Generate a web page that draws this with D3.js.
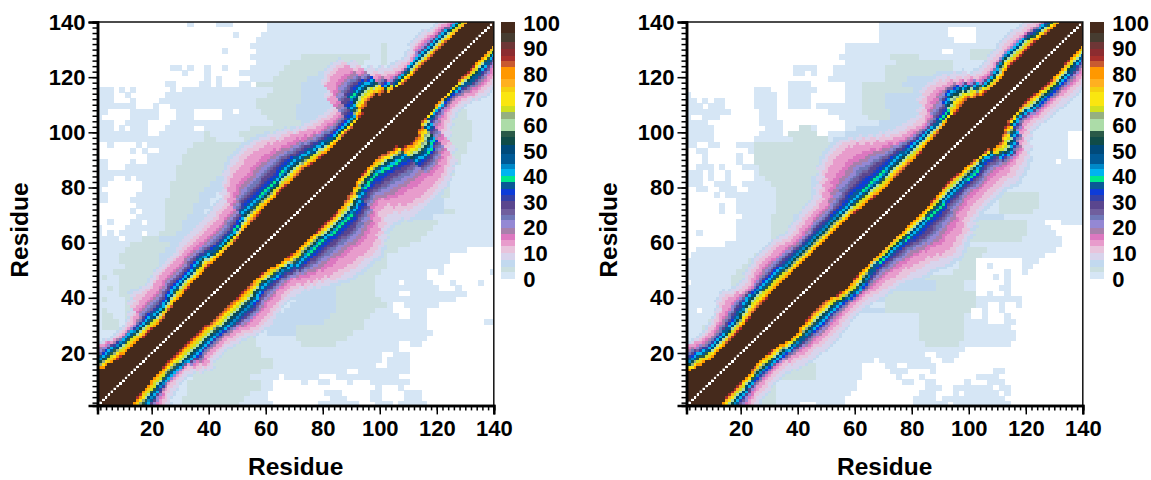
<!DOCTYPE html>
<html>
<head>
<meta charset="utf-8">
<script src="https://cdn.jsdelivr.net/npm/d3@7"></script>
<style>
  html, body { margin: 0; background: #fff; }
  text { font-family: "Liberation Sans", Arial, sans-serif; font-weight: bold; fill: #000; }
</style>
</head>
<body>
<svg id="chart" width="1151" height="480"></svg>
<script>
// Colour bar bands, bottom to top
const barTicks = [0, 10, 20, 30, 40, 50, 60, 70, 80, 90, 100];
const bandLimits = [2.6, 4.3, 7.1, 10, 12.6, 15, 17.5, 19.9, 22.7, 25, 27.3, 30.3, 32.5, 35, 37.7, 40, 42.9, 44.8,
  48.7, 52, 55.2, 57.5, 62.3, 65, 67.5, 72.7, 75, 77.9, 82.5, 85, 87, 89.6, 92.2, 96];
const bandColors = ['#d6e6f5', '#cbdfe0', '#c2d9ef', '#d8d4ec', '#e8c4dc', '#e89ccc', '#dc78c0', '#a880ac', '#9488d4',
  '#7078b8', '#705f9e', '#5a468e', '#3340a8', '#0d3cd8', '#0a5a96', '#00e88c', '#00b4f0', '#0088c8', '#005a96',
  '#004a7a', '#104c48', '#2a5a48', '#acdca8', '#95b080', '#d0e020', '#fae610', '#f5d010', '#ffb020', '#ff9800',
  '#c85a30', '#a8302c', '#8c2c30', '#6e3636', '#463c30', '#452a1c'];

// Values the contour offsets below stand for
const contourLevels = [90, 40, 13, 6];
// Values of the far field letters
const farValues = { a: 1, g: 3.5, b: 5.5 };

// Offsets from the diagonal, one entry per 2 residues along it (panel 1, above the diagonal)
const upperCoreA = [12,12,12,12,11,10,9.5,9,9,9,
  8.5,8.5,8,8.5,9,9.5,10,10,10.5,11,
  11,11,11.5,11,11,11,11,11.5,12,12,
  12,12.5,13,13,13,13.5,13.5,13,13,13,
  12.5,12,11.5,11,11,11,11.5,11.5,12,12.5,
  14,15,15,13,11,10,9.5,9,9.5,9.5,
  9.5,9.5,9.5,9.5,9,9,9,9,9,9];
const upperRingA = [17,17,17,17,16.5,16,16,15.5,15,15,
  14.5,14,14,13,13,14,15,16,16,16,
  16,17,17.5,16,15.5,15,15,15,15.5,17,
  19,19,19,18.5,18.5,18.5,19,19.5,20,20,
  19,18,17,16,15.5,15,15,15,15,19,
  22.5,23,23,22,15,12.5,13,13.5,14,14,
  14,14,14,14,14,13,13,12.5,12,12];
const upperOuterA = [23,23,23,23,23,22.5,20,18,17.5,17.5,
  17.5,19,22,23,23,23,24,25,25,25,
  25,25.5,25.5,25.5,25,25,25,25,26,26,
  29,33,35,36,36,37,37,36,35,33,
  31,30,28,26,24,23,22,22,30,36,
  37,37,36,30,22,18,16,15,15,16,
  18,18,18,17,17,16,15,15,14,14];
const upperFadeA = [25,25,25,25,25,24,22,20,20,20,
  21,23,27,30,28,27,28,29,29,29,
  29,30,31,31,31,31,31,31,32,32,
  35,38,41,43,44,44,44,43,42,40,
  37,35,32,30,29,28,27,27,34,40,
  42,42,41,36,28,24,21,20,19,20,
  22,22,22,20,20,19,18,18,17,17];

// Panel 1, below the diagonal
const lowerCoreA = [11,11,11,11,10.5,10,10,9,9,8.5,
  8.5,8.5,8.5,8.5,8.5,8.5,8.5,9,9,9,
  9,9,9.5,9.5,9,9,9.5,10,11,12,
  12.5,13,13,13,13,13.5,13.5,13.5,13.5,13,
  12,11,10,9,8.5,8,8,8,9,10.5,
  13,14.5,14,12,10.5,10,10,9.5,9.5,9,
  9,8.5,8.5,8.5,8,8,8,8,8,8];
const lowerRingA = [17,17,17,17,17,16.5,16,15.5,15,15,
  15,15.5,16,16,16,16,16,16.5,17,17.5,
  17.5,17.5,17.5,17,16,15,15.5,16,16.5,17,
  19,19,18.5,18.5,18.5,19,19.5,19.5,19.5,19.5,
  19,18,16,14.5,13.5,13.5,14,15,16,17,
  23,24,23.5,21.5,15,12.5,12,12,11.5,11.5,
  12,12.5,13.5,13.5,13,12.5,12,12,12,12];
const lowerOuterA = [22,22,22,22,22,22,20,18,17.5,17,
  17,17,20,23,21,21,21,21,22,23,
  25,26,26,26,25,25,24,24,25,28,
  30,32,34,35,36,37,37,38,38,37,
  35,32,28,28,32,35,36,37,37,37,
  37,36,34,32,27,20,18,16.5,16,16,
  17,19,19.5,19.5,19,18,18,17,16,16];
const lowerFadeA = [28,28,28,28,28,27,25,23,22,21,
  21,22,25,27,25,25,25,26,27,28,
  30,31,32,31,30,29,29,30,31,33,
  36,38,41,43,44,45,45,45,46,44,
  41,39,39,40,43,44,44,44,44,44,
  43,42,40,38,33,26,23,21,20,20,
  21,23,24,24,23,22,22,21,20,20];

// Panel 2, above the diagonal
const upperCoreB = [11,11,11,11,10,9,8,8,8,8.5,
  8.5,8.5,9,9.5,10,10,10.5,11,11,11,
  11,11,11,11,11,11,11,11,11,11,
  11,11,10.5,10,10,9.5,9,9,9,9,
  9,9,9,9.5,10,10,10.5,11,11.5,12,
  11.5,12,12,10,8.5,8,8,8,9,9.5,
  9.5,9.5,9.5,9.5,9,8.5,8,8,8,8];
const upperRingB = [16,16,16,16,15.5,15,14,13,13,13,
  13.5,14,14.5,15.5,17,18,17.5,17,17,17,
  17,16.5,16.5,16.5,16.5,16.5,16.5,16.5,16.5,16.5,
  16.5,16,16,16,16,15.5,15.5,15,15.5,16,
  16,16,15.5,15,15,15,15,14.5,14.5,14.5,
  19,21.5,20.5,18,15,12,12,13,14.5,15.5,
  15,15,15,14.5,13.5,13,12.5,12,12,12];
const upperOuterB = [23,23,23,23,23,22,20,18.5,18,18.5,
  19.5,21,23,24,23,21.5,21,23,24.5,25,
  25,25,25,24,23,23.5,24,25,25.5,25.5,
  26,29,32,35,36,37,37.5,37,35,32,
  29,26.5,24,22.5,21,20,19.5,21,25,27,
  27,26,25,22.5,19,16,15,15.5,16,16.5,
  17,17,17,16.5,16,15.5,15,14.5,14,14];
const upperFadeB = [25,25,25,25,25,24,22,21,21,22,
  23,25,28,29,27,26,26,28,29,30,
  30,30,30,29,28,29,29,30,31,31,
  32,35,38,41,43,44,44,44,42,39,
  36,33,30,28,27,26,26,28,32,34,
  34,33,31,28,25,21,20,20,21,21,
  22,22,22,21,21,20,19,18,18,18];

// Panel 2, below the diagonal
const lowerCoreB = [11,11,11,11,10.5,10.5,10.5,10,10,9.5,
  9,9,9.5,10,11,12,12,11,10.5,10,
  10,10,11,12.5,13,13,12.5,12,12,12,
  12.5,12,12,12,12,12,12,12,12,12,
  11.5,11,10.5,10.5,10.5,11,11,11.5,12,12.5,
  14,14,12,10.5,9.5,9,8.5,8.5,8.5,9,
  9.5,9.5,9,9,8.5,8,8,8,8,8];
const lowerRingB = [16.5,16.5,16.5,16.5,16.5,16,16,15,14.5,14.3,
  14.5,15,15.3,15.5,16,16.4,16.5,16.5,17,17,
  17,17,17,17.5,18.5,19,18.5,17.5,16.5,15.5,
  15.5,16,16,16,16.5,17,17,17,16.6,16.5,
  16.5,16,16,16,16,16.5,16.5,16,15,16,
  20,22,20,17,13,12,13,14,14.5,14.5,
  14.5,14.5,14.3,14,13.5,13,12.7,12,12,12];
const lowerOuterB = [22,22,22,22,22,22,20,19,19,18.5,
  18,18,18.5,20,21,22,22.5,23,23.5,23.5,
  23,22.5,22,22,22,22,23,24,24,25,
  26,26.5,28,29,30,32,34,35,34,33,
  32,29,28,27,27,27,27,27,27.5,28,
  27.5,26.5,25.5,22,19,17,17,18,18,18,
  18.5,19,19.5,19.5,19,18,17.5,17,16,16];
const lowerFadeB = [27,27,27,27,27,27,25,24,24,23,
  23,23,24,26,27,28,28,29,29,29,
  28,28,27,27,27,28,29,30,31,32,
  33,35,37,38,39,41,42,43,42,40,
  39,37,35,34,34,34,34,34,35,36,
  35,34,32,28,24,22,22,23,23,23,
  24,24,24,24,23,23,22,21,20,20];

// Far field per 2x2 residue block, top row first: letter + column or column range.
// '.' is an empty (white) block, anything not listed is the palest blue
const farRowsA = [
  '.0-15 .17-20 .24-29', '.0-29', '.0-23 .25-28', '.0-27', '.0-26 g50', '.0-21 .23-27 g50', '.0-26 g36-47 g50',
  '.0-27 g34-46 g50', '.0-12 .15 .17-18 .20-21 .23-26 g33-44', '.0-14 .16-18 .20-24 g32-38 b39-43',
  '.0-14 .15-18 .20 .22-26 g31-36 b37-42', '.0-11 .14-17 .20 .22-24 .27 g28-35 b36-42',
  '.3 .5 .7-12 .14 g31-35 b36-42', '.3-4 .6-11 g30-35 b36-42', '.3-5 .7-10 g28-35 b36-41',
  '.7-9 .11-12 g28-34 b35-41', '.2 .3-5 .11-13 .17-19 .20-21 .24 g29-34 b35-41 g62-64',
  '.1-2 .3-5 .11-13 .17-21 g30-34 b35-41 g62-64', '.3-4 .9-12 g31-35 b36-41 g62-65',
  '.3 .5 .9-11 .17-18 g27-33 b34-40 g62-65', '.9-10 g19 g25-33 b34-38 g60-65', 'g19-20 g26-32 b33-36 g60-65',
  '.0-1 .3-6 .8 g17-26 b27-30 g60-64', '.0-2 .3-5 .7 .9-10 g16-24 b25-28 g60-64',
  '.0-1 .2-5 .6-8 g15-23 b24-26 b56-60 g61-63', '.2-5 .7-8 g15-23 b24-25 b56-60 g61-63',
  '.2-4 g14-22 b23-24 b54-58 g59-62', 'g14-22 b23 b54-58 g59-62', '.3-4 .6 g14-20 b21-22 b52-58 g59-61',
  '.2-5 .6-7 g13-19 b20-22 b52-58 g59-61', '.1-5 .6-7 g13-18 b19-21 b50-58 g59-61',
  '.2-5 .6 g13-17 b18-20 b50-58 g59-61', '.2-5 g12-17 b18-19 b50-60', '.0-6 g12-16 b17-19 b50-60',
  '.0-5 .7 g12-16 b17-18 b50-60 g61-62', '.0-6 g12-15 b16-18 b48-58', '.0-1 .3-5 .8 g12-14 b15-17 b46-49 g50-59',
  '.1-4 g12-14 b15-16 b44-48 g49-58', '.1 .3 .8 g11-14 b14-16 b44-48 g49-57', '.4 g8-10 b11-15 b44-47 g48-56',
  'g6-12 b13-15 b42-46 g47-54', 'g5-11 b12-14 .65-69 b40-45 g46-52', 'g4-10 b11-13 .62-69 b41-45 g46-50',
  'g4-10 b11-13 .62-69 b41-45 g46-50', 'g5-10 b11-12 .61-69 b38-41 g42-50', 'g3-10 b11 .58-59 .61-68 b37-41 g42-49',
  'g1 g4-9 b10-11 .58-62 .63-69 b36-41 g42-48', 'g4-9 b10 .53 .59-61 .63-66 .68-69 b36-41 g42-48',
  'g2 g4-9 .60-62 .64-69 b35-41 g42-48', 'g4-8 .53-54 .65-69 b35-41 g42-48', 'g1 g5-7 .63-69 b35-41 g42-49',
  'g5-7 .52-53 .60-69 b34-41 g42-50', 'g1 g5-6 .52-54 .58-69 b33-41 g42-48', 'g1-2 g5 .53-54 .58-69 b32-40 g41-47',
  'g1-3 .58-67 b31-39 g40-46', 'g1-3 .58-62 .63-69 b30-34 g35-46', '.59-61 .62-69 b30-34 g35-44',
  '.58-69 g22-27 g35-43', '.53-54 .57-69 g18-27 g36-41', '.53-55 .56-69 g20-28', '.50-51 .55-69 g20-28',
  '.50 .55-69 g20-30', '.49-50 .55-69 g20-30', '.44-45 .55-69 g17-28', '.39-41 .53-69 .32 g17-26',
  '.31-34 .35 .37-38 .41-43 .45-47 .55-69 g16-28', '.31-34 .35-41 .42-48 .50-52 .54-56 .57-69 g16-28',
  '.30-34 .35-39 .43-47 .50-53 .57-69 g16-26', '.30-40 .44-47 .50-53 .57-69 g15-25', '.31-38 .46-48 .52 .58-69 g15-24',
];
const farRowsB = [
  '.0-33', '.0-33 .46-50 g58-61', '.0-33 .46-50 g57-61', '.0-33 .47-50 g57-62', '.0-27 g58-62', '.0-27 .45-46 g50-53',
  '.0-26 g36-40 g50-54', '.0-27 g37-46', '.0-18 .23-25 g35-46', '.0-18 .21 .23-25 g35-46 b44-47',
  '.0-24 g35-38 b39-46', '.0-17 .22-27 g31-37 b38-45', '.0-11 .15-17 .23-27 g31-39 b40-44',
  '.1-11 .16-17 .22-27 g31-34 b35-42', '.2 .4 .7-11 .16-17 .22-27 g31-34 b35-41', '.3 .7-11 .16-17 .22 g31-34 b35-41',
  '.8-12 .16-21 .22-24 g31-35 b36-41', '.1-2 .6-12 .16-21 .22-26 g32-35 b36-40', '.4-5 .6-12 .17-21 .22-27 b34-40',
  '.5-13 .17-19 .21 .23-27 g20-21 b30-37', '.5-12 .17-18 .22-24 g18-22 b28-36 .67-69', '.5-11 g19-24 b26-34 .67-69',
  '.2-3 .6-8 g12-26 b27-33 .67-69', '.0-1 .4-8 .9-10 g12-26 b27-30 .67-69', '.0-2 .4-8 .10-11 g12-26 b27-28 .67-69',
  '.0-2 .4-8 .10-11 g12-25 b26-28 .65', '.0-1 .5 .7-9 g13-24 b25-26', '.3 .5-6 .8-9 .10-11 g13-23',
  '.3 .5-6 .8-9 .10-11 g14-21 b22-24', '.3-4 .8-9 g15-21 b22-24', '.0-1 .4-5 .9-10 g16-21 b22-23',
  '.0-4 .6 g16-21 b22-23 g55-61', '.0-5 .6-8 g16-21 b22 g55-61', '.0-5 .7-8 g16-20 g55-61', '.0-5 .7-8 g16-20 g55-60',
  '.0-9 g15-18 b19-21 b48-55', '.0-8 .53 .63-65 g15-18 b19-21 g50-59', '.0-8 .64-69 g15-18 b19-20 g50-59',
  '.0-1 .3 .4-8 .65-69 g15-18 b19-21 g50-59', '.0-8 .66-69 g15-19 g50-58', '.0-3 .4-6 .66-69 g15-18 b44-49',
  '.0-1 .65-69 g48-52', '.0 .63-69 g12-15 g48-51', '.62-69 g11-14 g48-50 .51-55 .56-58',
  '.61-69 g10-14 g48-50 .51-52 .54-55 .56-58', '.60-69 g9-14 g47-50 .51-55 .57-58',
  '.59-69 g8-13 g41-50 .51-53 .55 .57-58', '.0 .57-69 g8-15 b35-43 g44-48 .51-55 .57-58',
  '.58-69 g8-15 b35-43 g44-48 .51-54 .57-58', '.57-69 g8-15 g35-50 .51-52 .54-55', '.59-69 g6-12 b31-34 g35-50',
  '.59-69 g6-10 g35-50 .53-54 .56-57', '.2 .58-69 g6-9 b31-34 g35-49 .50-51 .53-54 .56-57',
  'g5-8 g41-48 .50-51 .53-55 .57 .58-69', 'g4-7 g41-48 .53-55 .58-69', 'g3-6 g41-48 .57-69', 'g41-48 .58-69',
  'g3-5 g41-48 .58-69', 'g42-47 .57-69', '.49-69', '.42-43 .48-69', '.33 .43-44 .47-69',
  '.31-34 .37-38 .44-69 g15-22', '.31-34 .35 .39-42 .44-53 .56-69 g15-22', '.31-34 .35-36 .38-40 .42-50 .55-69 g15-22',
  '.30-34 .35-37 .40-41 .44-48 .50-52 .56-69', '.30-34 .35-41 .45-46 .54 .57-69 g12-15',
  '.29-34 .35-40 .44-46 .48 .55 .57-69 g12-15', '.28-39 .44 .56-69 g12-15', '.20-22 .28-39 .46 .57-69 g12-15',
];

const axisTicks = [20, 40, 60, 80, 100, 120, 140];
const minorTicks = d3.range(2, 141, 2);
const residues = d3.range(1, 141);

const svg = d3.select('#chart');
const color = d3.scaleThreshold().domain(bandLimits).range(bandColors);

// Turn far field rows into a lookup table of block letters
function parseFar(rows) {
    return rows.map((row) => {
        const blocks = new Array(70).fill('a');
        row.split(' ').forEach((t) => {
            const [a, b] = t.slice(1).split('-').map(Number);
            for (let c = a; c <= (b === undefined ? a : b); c++) blocks[c] = t[0];
        });
        return blocks;
    });
}

// Value of one cell, from the contour offsets on its side of the diagonal
function cellValue(i, j, contours, far) {
    const d = Math.abs(j - i);
    const bin = Math.min(69, Math.floor(((i + j) / 2 - 1) / 2));
    const side = j > i ? contours.upper : contours.lower;
    const offs = side.map((s) => s[bin]);
    const letter = far[69 - Math.floor((j - 1) / 2)][Math.floor((i - 1) / 2)];
    const base = letter === '.' ? -1 : farValues[letter];
    if (d <= offs[0]) return 100;
    for (let k = 1; k < offs.length; k++) {
        if (d <= offs[k]) {
            let t = (d - offs[k - 1]) / (offs[k] - offs[k - 1]);
            // The pink zone is wide and the purple one narrow, so this stretch falls off fast
            if (k === 2) t = 1 - Math.pow(1 - t, 1.8);
            return Math.max(base, contourLevels[k - 1] + t * (contourLevels[k] - contourLevels[k - 1]));
        }
    }
    return base;
}

function drawPanel(left, right, contours, farRows, clipId) {
    const top = 22;
    const bottom = 405.4;
    const x = d3.scaleLinear().domain([1, 140]).range([left, right]);
    const y = d3.scaleLinear().domain([1, 140]).range([bottom, top]);
    const far = parseFar(farRows);
    const w = x(2) - x(1);
    const h = y(1) - y(2);

    svg.append('clipPath').attr('id', clipId).append('rect')
        .attr('x', left).attr('y', top).attr('width', right - left).attr('height', bottom - top);

    const cells = [];
    residues.forEach((i) => residues.forEach((j) => {
        if (i === j) return;
        const value = cellValue(i, j, contours, far);
        if (value >= 0) cells.push({ i, j, value });
    }));

    const plot = svg.append('g').attr('clip-path', `url(#${clipId})`);
    plot.append('g')
        .attr('shape-rendering', 'crispEdges')
        .selectAll('rect')
        .data(cells)
        .join('rect')
        .attr('x', (d) => x(d.i) - w / 2)
        .attr('y', (d) => y(d.j) - h / 2)
        .attr('width', w + 0.5)
        .attr('height', h + 0.5)
        .attr('fill', (d) => color(d.value));

    // The empty diagonal, separate white squares on top of the band
    plot.append('g')
        .selectAll('rect')
        .data(residues)
        .join('rect')
        .attr('x', (d) => x(d) - w * 0.38)
        .attr('y', (d) => y(d) - h * 0.38)
        .attr('width', w * 0.76)
        .attr('height', h * 0.76)
        .attr('fill', '#fff');

    // Frame on the open sides
    svg.append('path')
        .attr('d', `M${left},${top}H${right}V${bottom}`)
        .attr('fill', 'none').attr('stroke', '#111').attr('stroke-width', 1.5);

    // Axes: minor ticks first, then labelled ones
    const bottomG = svg.append('g').attr('transform', `translate(0,${bottom})`);
    bottomG.append('g').call(d3.axisBottom(x).tickValues(minorTicks).tickSize(5).tickFormat(''));
    bottomG.append('g').call(d3.axisBottom(x).tickValues(axisTicks).tickSize(9).tickPadding(6));
    const leftG = svg.append('g').attr('transform', `translate(${left},0)`);
    leftG.append('g').call(d3.axisLeft(y).tickValues(minorTicks).tickSize(5).tickFormat(''));
    leftG.append('g').call(d3.axisLeft(y).tickValues(axisTicks).tickSize(9).tickPadding(3));
    [bottomG, leftG].forEach((g) => {
        g.selectAll('path.domain').attr('stroke-width', 2.5).attr('stroke', '#000');
        g.selectAll('line').attr('stroke-width', 1.5).attr('stroke', '#000');
        g.selectAll('text').style('font-size', '22px');
    });

    // Colour bar
    const barX = right + 7.5;
    const barY = d3.scaleLinear().domain([0, 100]).range([278, 22]);
    const edges = [0, ...bandLimits, 100];
    svg.append('g').attr('shape-rendering', 'crispEdges')
        .selectAll('rect')
        .data(bandColors)
        .join('rect')
        .attr('x', barX)
        .attr('width', 14)
        .attr('y', (d, k) => barY(edges[k + 1]))
        .attr('height', (d, k) => barY(edges[k]) - barY(edges[k + 1]) + 0.5)
        .attr('fill', (d) => d);
    const barAxis = svg.append('g').attr('transform', `translate(${barX + 14},1)`)
        .call(d3.axisRight(barY).tickValues(barTicks).tickSize(0).tickPadding(8));
    barAxis.select('path.domain').remove();
    barAxis.selectAll('text').style('font-size', '22px');

    // Axis titles
    svg.append('text').attr('x', (left + right) / 2).attr('y', 474.5)
        .attr('text-anchor', 'middle').style('font-size', '24.5px').text('Residue');
    svg.append('text').attr('transform', `translate(${left - 69.5},230) rotate(-90)`)
        .attr('text-anchor', 'middle').style('font-size', '24.5px').text('Residue');
}

drawPanel(97.5, 493.8, {
    upper: [upperCoreA, upperRingA, upperOuterA, upperFadeA],
    lower: [lowerCoreA, lowerRingA, lowerOuterA, lowerFadeA],
}, farRowsA, 'clipA');

drawPanel(686.5, 1082.8, {
    upper: [upperCoreB, upperRingB, upperOuterB, upperFadeB],
    lower: [lowerCoreB, lowerRingB, lowerOuterB, lowerFadeB],
}, farRowsB, 'clipB');
</script>
</body>
</html>
